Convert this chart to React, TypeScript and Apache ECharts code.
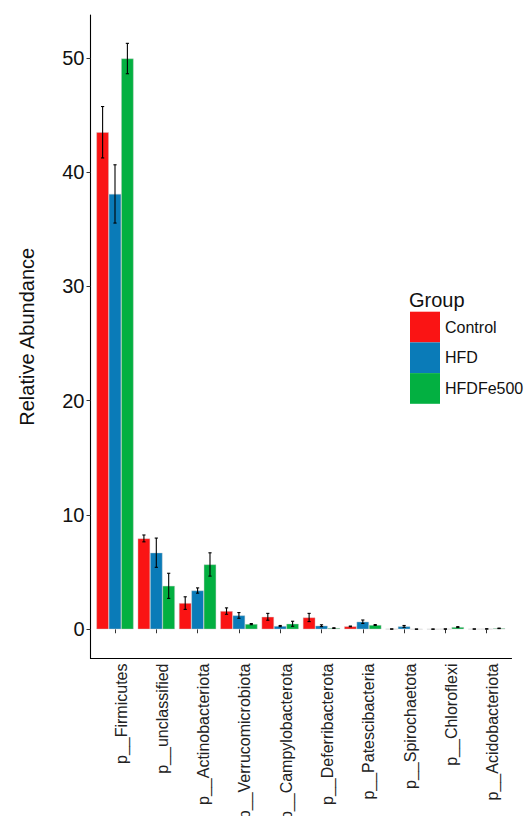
import React, { useEffect, useRef } from "react";
import * as echarts from "echarts";

const categories = [
  "p__Firmicutes",
  "p__unclassified",
  "p__Actinobacteriota",
  "p__Verrucomicrobiota",
  "p__Campylobacterota",
  "p__Deferribacterota",
  "p__Patescibacteria",
  "p__Spirochaetota",
  "p__Chloroflexi",
  "p__Acidobacteriota",
];
const groups = ["Control", "HFD", "HFDFe500"];
const controlMean = [43.5, 7.95, 2.29, 1.59, 1.09, 1.03, 0.25, 0.02, 0.01, 0.02];
const controlSe = [2.25, 0.3, 0.55, 0.28, 0.3, 0.36, 0.03, 0.01, 0.01, 0.01];
const hfdMean = [38.1, 6.7, 3.39, 1.21, 0.28, 0.31, 0.66, 0.25, 0.02, 0.03];
const hfdSe = [2.55, 1.28, 0.23, 0.25, 0.05, 0.08, 0.15, 0.08, 0.01, 0.01];
const fe500Mean = [49.95, 3.8, 5.67, 0.45, 0.48, 0.1, 0.37, 0.01, 0.19, 0.08];
const fe500Se = [1.33, 1.1, 1.02, 0.05, 0.22, 0.03, 0.04, 0.005, 0.04, 0.02];
const yTicks = [0, 10, 20, 30, 40, 50];
const colors = ["#FA1414", "#0A7BB8", "#03B041"];

const FONT = "'Liberation Sans', Arial, sans-serif";

export default function App() {
  const ref = useRef<HTMLDivElement>(null);
  useEffect(() => {
    if (!ref.current) return;
    const chart = echarts.init(ref.current, null, { renderer: "svg" });
    const means = [controlMean, hfdMean, fe500Mean];
    const ses = [controlSe, hfdSe, fe500Se];

    const barSeries = groups.map((g, gi) => ({
      name: g,
      type: "bar",
      xAxisIndex: 0,
      yAxisIndex: 0,
      data: means[gi],
      barWidth: "30%",
      barGap: "0%",
      itemStyle: {
        color: colors[gi],
        borderColor: "rgba(205,205,205,0.8)",
        borderWidth: 0.5,
      },
      z: 2,
    }));

    const errSeries = groups.map((g, gi) => ({
      name: g + "_err",
      type: "custom",
      xAxisIndex: 0,
      yAxisIndex: 0,
      z: 5,
      silent: true,
      encode: { x: 0, y: 1 },
      data: means[gi].map((m, i) => [i, m, ses[gi][i]]),
      renderItem: (params: any, api: any) => {
        const idx = api.value(0);
        const m = api.value(1);
        const s = api.value(2);
        const bandW = api.size([1, 0])[0];
        const c = api.coord([idx, m]);
        const x = c[0] + (gi - 1) * bandW * 0.3;
        const yTop = api.coord([idx, m + s])[1];
        const yBot = api.coord([idx, m - s])[1];
        const st = { stroke: "#000", lineWidth: 1.1 };
        const hw = 1.6;
        return {
          type: "group",
          children: [
            { type: "line", shape: { x1: x, y1: yTop, x2: x, y2: yBot }, style: st },
            { type: "line", shape: { x1: x - hw, y1: yTop, x2: x + hw, y2: yTop }, style: st },
            { type: "line", shape: { x1: x - hw, y1: yBot, x2: x + hw, y2: yBot }, style: st },
          ],
        };
      },
    }));

    chart.setOption({
      animation: false,
      textStyle: { fontFamily: FONT },
      title: {
        text: "Group",
        left: 409,
        top: 290,
        padding: 0,
        textStyle: { fontFamily: FONT, fontSize: 20, fontWeight: "normal", color: "#111" },
      },
      legend: {
        data: groups,
        orient: "vertical",
        left: 410,
        top: 311.7,
        padding: 0,
        itemWidth: 30,
        itemHeight: 30.7,
        itemGap: 0,
        icon: "rect",
        selectedMode: false,
        itemStyle: { borderWidth: 0 },
        textStyle: { fontFamily: FONT, fontSize: 16, color: "#111" },
      },
      grid: [
        { left: 94.35, right: 21.65, top: 15, bottom: 157.5, containLabel: false, outerBoundsMode: "none" },
        { left: 90.5, right: 17.5, top: 15, bottom: 157.5, containLabel: false, outerBoundsMode: "none" },
      ],
      xAxis: [
        {
          type: "category",
          gridIndex: 0,
          data: categories,
          axisLine: { show: false },
          axisTick: {
            show: true,
            alignWithLabel: true,
            length: 4,
            lineStyle: { color: "#333", width: 1 },
          },
          axisLabel: {
            rotate: 90,
            interval: 0,
            margin: 5,
            fontSize: 16,
            fontFamily: FONT,
            color: "#222",
            verticalAlign: "top",
            lineHeight: 12,
          },
        },
        {
          type: "value",
          gridIndex: 1,
          min: 0,
          max: 1,
          axisLine: { show: true, lineStyle: { color: "#000", width: 1.1 } },
          axisTick: { show: false },
          axisLabel: { show: false },
          splitLine: { show: false },
        },
      ],
      yAxis: [
        {
          type: "value",
          gridIndex: 0,
          min: -2.56,
          max: 53.76,
          offset: 3.85,
          axisLine: { show: true, lineStyle: { color: "#000", width: 1.1 } },
          axisTick: {
            show: true,
            length: 4,
            customValues: yTicks,
            lineStyle: { color: "#333", width: 1 },
          },
          axisLabel: {
            customValues: yTicks,
            margin: 6,
            fontSize: 20,
            fontFamily: FONT,
            color: "#111",
          },
          splitLine: { show: false },
          name: "Relative Abundance",
          nameLocation: "middle",
          nameRotate: 90,
          nameGap: 54,
          nameTextStyle: { fontFamily: FONT, fontSize: 20, color: "#111" },
        },
        {
          type: "value",
          gridIndex: 1,
          min: 0,
          max: 1,
          show: false,
        },
      ],
      series: [...barSeries, ...errSeries],
    });
    return () => chart.dispose();
  }, []);
  return (
    <div
      ref={ref}
      style={{ position: "fixed", left: 0, top: 0, width: 529, height: 816, background: "#fff" }}
    />
  );
}
